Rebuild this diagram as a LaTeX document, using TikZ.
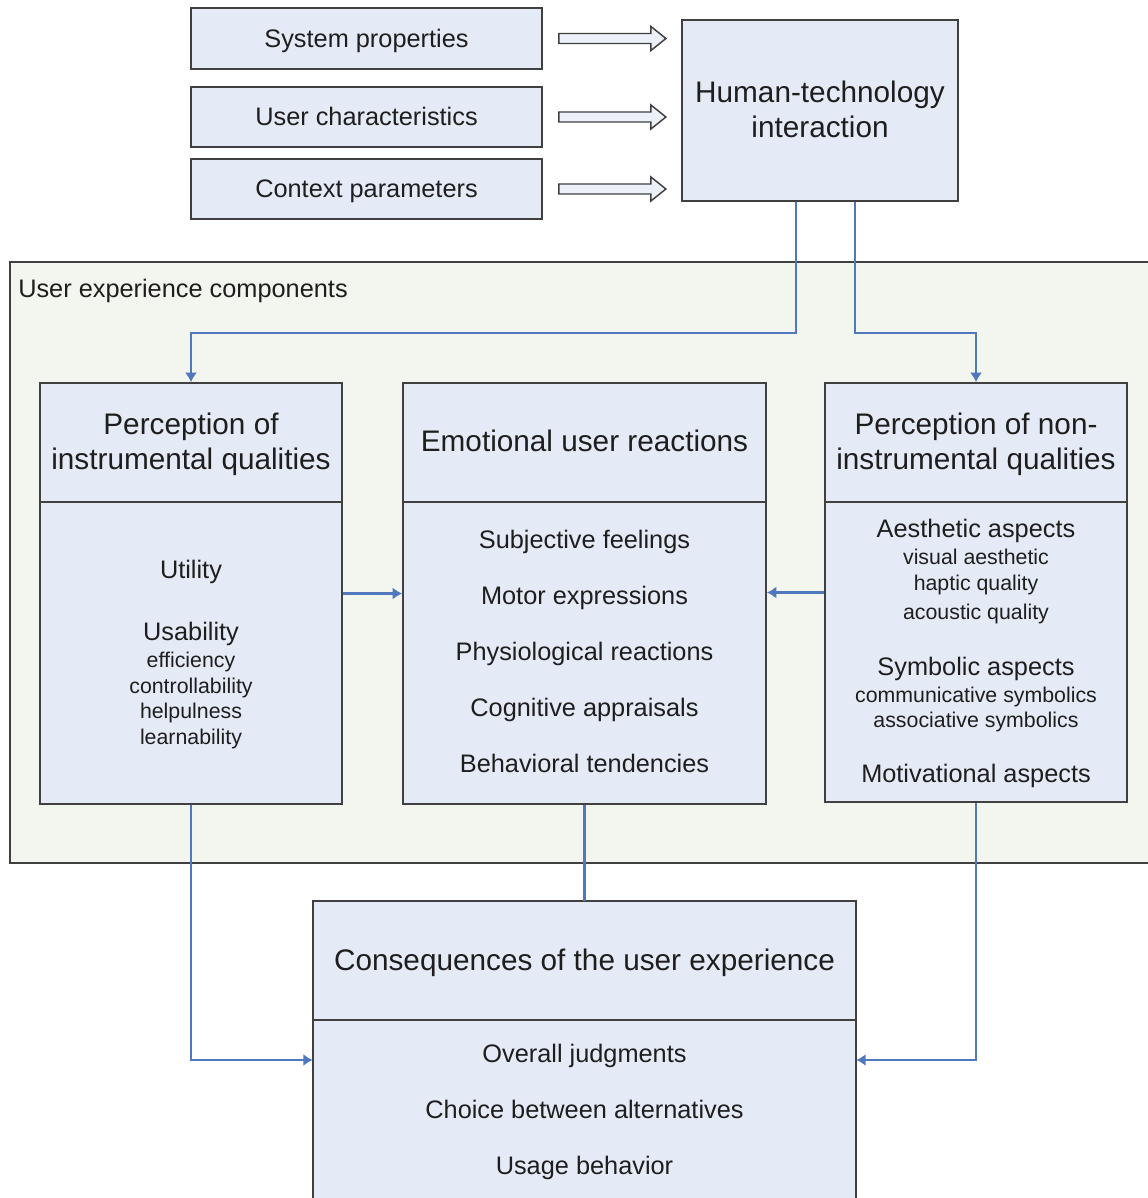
\documentclass[tikz,border=0pt]{standalone}
\usepackage{fontspec}
\setmainfont{Liberation Sans}
\usetikzlibrary{calc,fit,arrows.meta}
\definecolor{boxfill}{RGB}{229,235,246}
\definecolor{uxfill}{RGB}{243,245,239}
\definecolor{bordergray}{RGB}{64,64,64}
\definecolor{connblue}{RGB}{79,120,190}
\definecolor{txtcol}{RGB}{30,30,30}
\definecolor{arrowfill}{RGB}{236,240,248}
\begin{document}
\begin{tikzpicture}[x=0.75pt,y=-0.75pt,
  box/.style={draw=bordergray, line width=1.4pt, fill=boxfill, inner sep=0pt},
  conn/.style={draw=connblue, line width=1.7pt, -{Latex[length=7pt,width=9pt]}},
  plainconn/.style={draw=connblue, line width=1.7pt},
  divider/.style={draw=bordergray, line width=1.4pt},
  bigtxt/.style={font=\fontsize{22.3}{26}\selectfont, text=txtcol, inner sep=0pt, text height=15.6pt, text depth=0pt},
  midtxt/.style={font=\fontsize{19}{23}\selectfont, text=txtcol, inner sep=0pt, text height=13.3pt, text depth=0pt},
  smltxt/.style={font=\fontsize{16}{19}\selectfont, text=txtcol, inner sep=0pt, text height=11.2pt, text depth=0pt},
  hollow/.style={draw=bordergray, fill=arrowfill, line width=1.1pt, line join=miter}
]
\useasboundingbox (0,0) rectangle (1148,1198);

% top input boxes
\node[box, fit={(191,8) (542,69)}] (sys) {};
\node[box, fit={(191,87) (542,147)}] (usr) {};
\node[box, fit={(191,159) (542,219)}] (ctx) {};
\node[midtxt] (sysT) at (sys.center) {System properties};
\node[midtxt] (usrT) at (usr.center) {User characteristics};
\node[midtxt] (ctxT) at (ctx.center) {Context parameters};

% hollow arrows
\foreach \b in {sys,usr,ctx}{
  \draw[hollow] ($(\b.east)+(16,-5)$) -- ($(\b.east)+(108,-5)$) -- ($(\b.east)+(108,-12)$)
    -- ($(\b.east)+(123,0)$) -- ($(\b.east)+(108,12)$) -- ($(\b.east)+(108,5)$)
    -- ($(\b.east)+(16,5)$) -- cycle;
}

% human-technology interaction
\node[box, fit={(682,20) (958,201)}] (hti) {};
\node[bigtxt] (htiA) at (820,92) {Human-technology};
\node[bigtxt] (htiB) at (820,127) {interaction};

% container
\node[fill=uxfill, inner sep=0pt, fit={(10,262) (1148,863)}] (uxc) {};
\draw[draw=bordergray, line width=1.2pt] (uxc.north east) -- (uxc.north west) -- (uxc.south west) -- (uxc.south east);
\node[midtxt, anchor=west] (uxcT) at (18,289) {User experience components};

% three columns
\node[box, fit={(40,383) (342,804)}] (L) {};
\node[box, fit={(403,383) (766,804)}] (M) {};
\node[box, fit={(825,383) (1127,802)}] (R) {};
\draw[divider] (L.west |- 0,502) -- (L.east |- 0,502);
\draw[divider] (M.west |- 0,502) -- (M.east |- 0,502);
\draw[divider] (R.west |- 0,502) -- (R.east |- 0,502);

% left column text
\node[bigtxt] (LhA) at (191,424) {Perception of};
\node[bigtxt] (LhB) at (191,459) {instrumental qualities};
\node[midtxt] (L1) at (191,570) {Utility};
\node[midtxt] (L2) at (191,632) {Usability};
\node[smltxt] (L3) at (191,660) {efficiency};
\node[smltxt] (L4) at (191,686) {controllability};
\node[smltxt] (L5) at (191,711) {helpulness};
\node[smltxt] (L6) at (191,737) {learnability};

% middle column text
\node[bigtxt] (Mh) at (584.5,441) {Emotional user reactions};
\node[midtxt] (M1) at (584.5,540) {Subjective feelings};
\node[midtxt] (M2) at (584.5,596) {Motor expressions};
\node[midtxt] (M3) at (584.5,652) {Physiological reactions};
\node[midtxt] (M4) at (584.5,708) {Cognitive appraisals};
\node[midtxt] (M5) at (584.5,764) {Behavioral tendencies};

% right column text
\node[bigtxt] (RhA) at (976,424) {Perception of non-};
\node[bigtxt] (RhB) at (976,459) {instrumental qualities};
\node[midtxt] (R1) at (976,529) {Aesthetic aspects};
\node[smltxt] (R2) at (976,557) {visual aesthetic};
\node[smltxt] (R3) at (976,583) {haptic quality};
\node[smltxt] (R4) at (976,612) {acoustic quality};
\node[midtxt] (R5) at (976,667) {Symbolic aspects};
\node[smltxt] (R6) at (976,695) {communicative symbolics};
\node[smltxt] (R7) at (976,720) {associative symbolics};
\node[midtxt] (R8) at (976,774) {Motivational aspects};

% bottom box
\node[fill=boxfill, inner sep=0pt, fit={(313,901) (856,1198)}] (B) {};
\draw[divider] (B.south west) -- (B.north west) -- (B.north east) -- (B.south east);
\draw[divider] (B.west |- 0,1020) -- (B.east |- 0,1020);
\node[bigtxt] (Bh) at (584.5,960) {Consequences of the user experience};
\node[midtxt] (B1) at (584.5,1054) {Overall judgments};
\node[midtxt] (B2) at (584.5,1110) {Choice between alternatives};
\node[midtxt] (B3) at (584.5,1166) {Usage behavior};

% connectors
\draw[conn] ($(hti.south)+(-24,0)$) -- ++(0,131) -| (L.north);
\draw[conn] ($(hti.south)+(35,0)$) -- ++(0,131) -| (R.north);
\draw[conn] (L.east) -- (M.west);
\draw[conn] (R.west) -- (R.west -| M.east);
\draw[conn] (L.south) |- ($(B.west)+(0,10.5)$);
\draw[conn] (R.south) |- ($(B.east)+(0,10.5)$);
\draw[plainconn] (M.south) -- (B.north);
\end{tikzpicture}
\end{document}
